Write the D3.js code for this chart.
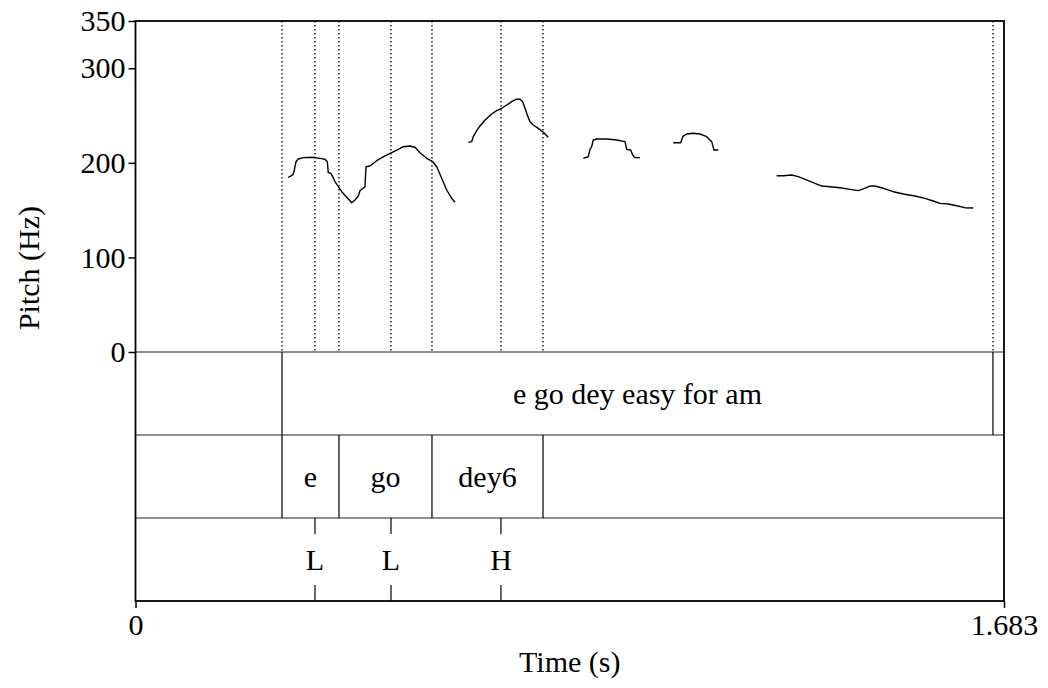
<!DOCTYPE html>
<html>
<head>
<meta charset="utf-8">
<script src="https://cdn.jsdelivr.net/npm/d3@7"></script>
<style>
  html, body { margin: 0; padding: 0; background: #fff; }
  svg text { font-family: "Liberation Serif", "Times New Roman", serif; fill: #000; }
</style>
</head>
<body>
<svg id="chart" width="1048" height="688"></svg>
<script>
// Pitch track (time in s, F0 in Hz), one pair of arrays per voiced stretch
const seg1Time = [0.2961,0.3046,0.3071,0.3110,0.3155,0.3252,0.3445,0.3575,0.3672,0.3717,0.3736,0.3783,0.3821,0.3866,0.3930,0.3996,0.4093,0.4190,0.4253,0.4317,0.4350,0.4447,0.4467,0.4544,0.4674,0.4835,0.4965,0.5093,0.5189,0.5319,0.5416,0.5513,0.5643,0.5759,0.5837,0.5934,0.6030,0.6127,0.6191];
const seg1Hz   = [184.7,187.2,190.7,201.2,204.1,205.5,205.9,204.8,203.8,201.2,189.6,189.0,185.4,180.1,174.8,169.5,163.6,157.9,160.7,165.0,170.6,174.8,195.9,196.7,202.3,207.3,210.7,214.3,217.1,217.8,216.5,210.7,204.8,201.2,195.9,183.7,171.3,162.5,158.3];
const seg2Time = [0.6449,0.6515,0.6546,0.6612,0.6676,0.6773,0.6902,0.6999,0.7096,0.7193,0.7290,0.7373,0.7451,0.7503,0.7548,0.7592,0.7645,0.7708,0.7805,0.7902,0.7999];
const seg2Hz   = [221.7,222.4,227.7,234.0,239.0,245.3,251.7,255.2,257.7,261.2,264.7,267.2,267.2,264.7,257.7,250.6,243.5,240.0,236.5,232.3,227.0];
const seg3Time = [0.8677,0.8774,0.8807,0.8840,0.8871,0.8937,0.9131,0.9325,0.9486,0.9519,0.9596,0.9635,0.9679,0.9776];
const seg3Hz   = [204.8,206.5,214.3,217.1,224.2,225.2,225.2,224.2,222.4,214.3,213.6,208.3,205.5,205.5];
const seg4Time = [1.0421,1.0565,1.0604,1.0681,1.0809,1.0939,1.1069,1.1166,1.1210,1.1293];
const seg4Hz   = [221.3,221.3,227.7,230.5,231.3,230.5,227.7,222.4,213.6,213.6];
const seg5Time = [1.2425,1.2553,1.2716,1.2844,1.2974,1.3134,1.3297,1.3458,1.3652,1.3846,1.4006,1.4103,1.4233,1.4330,1.4491,1.4685,1.4878,1.5105,1.5299,1.5460,1.5590,1.5751,1.5913,1.6074,1.6235];
const seg5Hz   = [186.4,186.4,187.2,185.4,182.6,179.0,175.5,174.8,173.7,172.0,170.6,172.4,175.5,175.5,173.1,169.5,167.1,165.0,162.5,159.7,157.2,156.5,154.7,152.6,152.3];

// Axis settings
const timeMax = 1.683;
const pitchMax = 350;
const pitchTicks = [0, 100, 200, 300, 350];
const timeTickLabels = ["0", "1.683"];

// Tier 1: sentence interval
const sentenceBounds = [0.2839, 1.6616];
const sentenceLabel = "e go dey easy for am";
// Tier 2: word intervals
const wordBounds = [0.2839, 0.3943, 0.5745, 0.7897];
const wordLabels = ["e", "go", "dey6"];
// Tier 3: tone points
const toneTimes = [0.3478, 0.4951, 0.7082];
const toneLabels = ["L", "L", "H"];

(function () {
  const svg = d3.select("#chart");
  const plotLeft = 135.5, plotRight = 1004, plotTop = 21, pitchBottom = 352;
  const tierEdges = [352, 435, 518, 601];
  const plotBottom = tierEdges[3];

  const x = d3.scaleLinear().domain([0, timeMax]).range([plotLeft, plotRight]);
  const y = d3.scaleLinear().domain([0, pitchMax]).range([pitchBottom, plotTop]);

  // dotted guide lines from every boundary/point through the pitch panel
  const guideTimes = Array.from(new Set([...sentenceBounds, ...wordBounds, ...toneTimes])).sort((a, b) => a - b);
  svg.append("g").selectAll("line").data(guideTimes).join("line")
    .attr("x1", d => x(d)).attr("x2", d => x(d))
    .attr("y1", plotTop).attr("y2", pitchBottom)
    .attr("stroke", "#000").attr("stroke-width", 1.3)
    .attr("stroke-dasharray", "1.5,2.5");

  // pitch contour
  const segments = [[seg1Time, seg1Hz], [seg2Time, seg2Hz], [seg3Time, seg3Hz], [seg4Time, seg4Hz], [seg5Time, seg5Hz]];
  const line = d3.line().x(d => x(d[0])).y(d => y(d[1])).curve(d3.curveLinear);
  svg.append("g").selectAll("path").data(segments).join("path")
    .attr("d", s => line(s[0].map((t, i) => [t, s[1][i]])))
    .attr("fill", "none").attr("stroke", "#000").attr("stroke-width", 1.4)
    .attr("stroke-linejoin", "round");

  // tier separators
  svg.append("g").selectAll("line").data(tierEdges.slice(0, 3)).join("line")
    .attr("x1", plotLeft).attr("x2", plotRight).attr("y1", d => d).attr("y2", d => d)
    .attr("stroke", "#222").attr("stroke-width", 1.2);

  // tier 1
  svg.append("g").selectAll("line").data(sentenceBounds).join("line")
    .attr("x1", d => x(d)).attr("x2", d => x(d))
    .attr("y1", tierEdges[0]).attr("y2", tierEdges[1])
    .attr("stroke", "#000").attr("stroke-width", 1.2);
  svg.append("text")
    .attr("x", x((sentenceBounds[0] + sentenceBounds[1]) / 2))
    .attr("y", (tierEdges[0] + tierEdges[1]) / 2)
    .attr("text-anchor", "middle").attr("dominant-baseline", "central")
    .attr("font-size", 30).text(sentenceLabel);

  // tier 2
  svg.append("g").selectAll("line").data(wordBounds).join("line")
    .attr("x1", d => x(d)).attr("x2", d => x(d))
    .attr("y1", tierEdges[1]).attr("y2", tierEdges[2])
    .attr("stroke", "#000").attr("stroke-width", 1.2);
  svg.append("g").selectAll("text").data(wordLabels).join("text")
    .attr("x", (d, i) => x((wordBounds[i] + wordBounds[i + 1]) / 2))
    .attr("y", (tierEdges[1] + tierEdges[2]) / 2)
    .attr("text-anchor", "middle").attr("dominant-baseline", "central")
    .attr("font-size", 30).text(d => d);

  // tier 3 (points)
  const tones = svg.append("g").selectAll("g").data(toneTimes).join("g");
  tones.append("line")
    .attr("x1", d => x(d)).attr("x2", d => x(d))
    .attr("y1", tierEdges[2]).attr("y2", tierEdges[2] + 16)
    .attr("stroke", "#000").attr("stroke-width", 1.2);
  tones.append("line")
    .attr("x1", d => x(d)).attr("x2", d => x(d))
    .attr("y1", tierEdges[3] - 16).attr("y2", tierEdges[3])
    .attr("stroke", "#000").attr("stroke-width", 1.2);
  tones.append("text")
    .attr("x", d => x(d)).attr("y", (tierEdges[2] + tierEdges[3]) / 2)
    .attr("text-anchor", "middle").attr("dominant-baseline", "central")
    .attr("font-size", 30).text((d, i) => toneLabels[i]);

  // frame
  svg.append("rect")
    .attr("x", plotLeft).attr("y", plotTop).attr("width", plotRight - plotLeft).attr("height", plotBottom - plotTop)
    .attr("fill", "none").attr("stroke", "#000").attr("stroke-width", 1.8);

  // y axis (pitch)
  const yAxis = d3.axisLeft(y).tickValues(pitchTicks).tickSize(7).tickPadding(3).tickFormat(d3.format("d"));
  const gy = svg.append("g").attr("transform", `translate(${plotLeft},0)`).call(yAxis);
  gy.select(".domain").remove();
  gy.selectAll(".tick line").attr("stroke", "#000").attr("stroke-width", 1.5);
  gy.selectAll(".tick text").attr("font-size", 30).attr("font-family", "Liberation Serif").attr("fill", "#000");

  // x axis (time)
  const xAxis = d3.axisBottom(x).tickValues([0, timeMax]).tickSize(7).tickPadding(6)
    .tickFormat((d, i) => timeTickLabels[i]);
  const gx = svg.append("g").attr("transform", `translate(0,${plotBottom})`).call(xAxis);
  gx.select(".domain").remove();
  gx.selectAll(".tick line").attr("stroke", "#000").attr("stroke-width", 1.5);
  gx.selectAll(".tick text").attr("font-size", 30).attr("font-family", "Liberation Serif").attr("fill", "#000");

  // axis titles
  svg.append("text").attr("x", (plotLeft + plotRight) / 2).attr("y", 672)
    .attr("text-anchor", "middle").attr("font-size", 30).text("Time (s)");
  svg.append("text").attr("transform", "translate(28,268) rotate(-90)")
    .attr("text-anchor", "middle").attr("dominant-baseline", "central")
    .attr("font-size", 30).text("Pitch (Hz)");
})();
</script>
</body>
</html>
